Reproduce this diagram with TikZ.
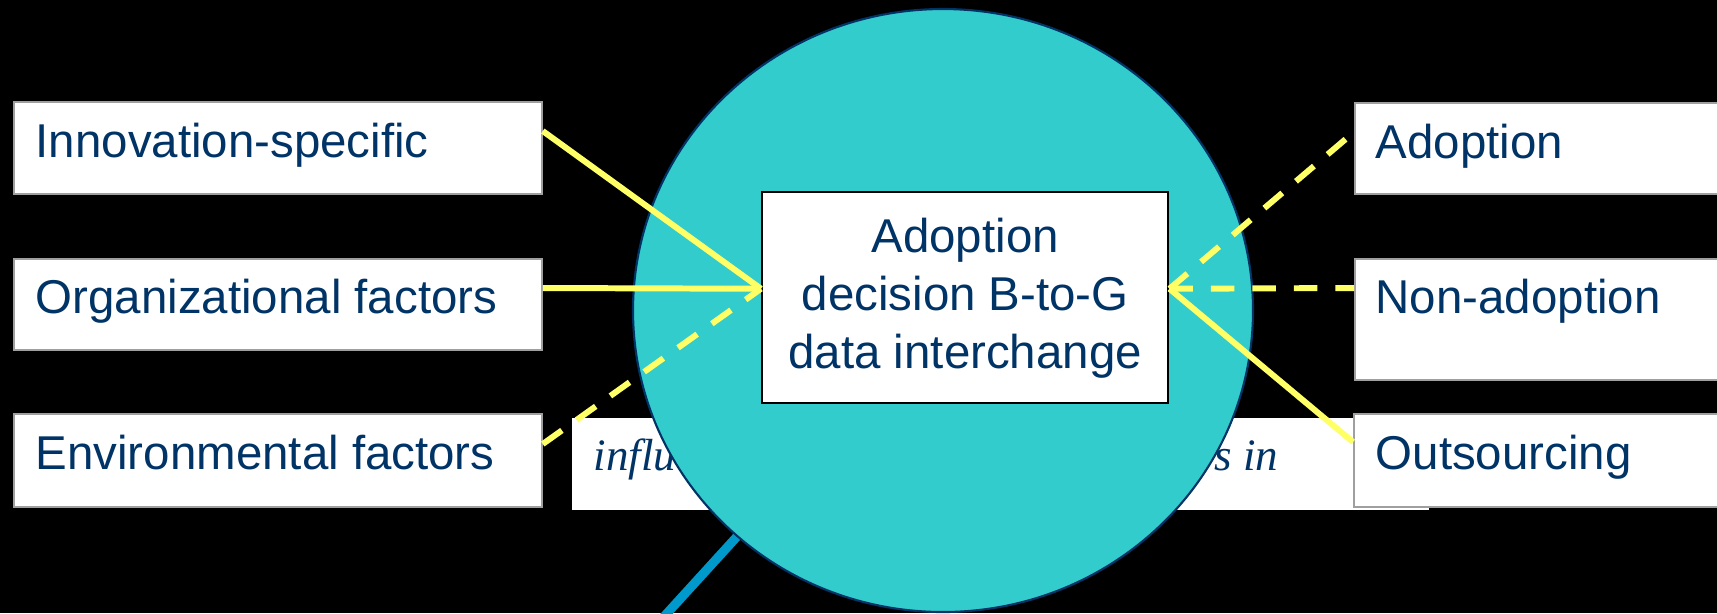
\documentclass[tikz,border=0pt]{standalone}
\usepackage{fontspec}
\setmainfont{Liberation Sans}
\newfontfamily\serifit{Liberation Serif}
\usetikzlibrary{calc}
\definecolor{navy}{HTML}{003366}
\definecolor{tealfill}{HTML}{33CCCC}
\definecolor{yel}{HTML}{FFFF66}
\definecolor{blueline}{HTML}{0099CC}
\begin{document}
\begin{tikzpicture}[x=0.1mm,y=-0.1mm,
  lblbox/.style={draw=gray!75, line width=0.5pt, fill=white, rectangle, inner sep=0pt, anchor=north west},
  lbltext/.style={anchor=base west, inner sep=0pt, text=navy, font=\fontsize{13.5}{16}\selectfont},
  conn/.style={draw=yel, line width=1.7pt},
  dashconn/.style={conn, dash pattern=on 2.35mm off 1.8mm},
  infltext/.style={inner sep=0pt, text=navy, font=\serifit\itshape\fontsize{12.8}{15}\selectfont},
]
\useasboundingbox (0,0) rectangle (1717,613);
\fill[black] (0,0) rectangle (1717,613);
\clip (0,0) rectangle (1717,613);

% partially hidden text box
\node[fill=white, inner sep=0pt, anchor=north west, minimum width=85.7mm, minimum height=9.2mm] (inflbox) at (571,417) {};
\node[infltext, anchor=base west] (infl1) at (593,470) {influ};
\node[infltext, anchor=base east] (infl2) at (1279,470) {s in};

% blue line from circle centre
\coordinate (cc) at (943,310.5);
\coordinate (blueend) at (588,700);
\draw[blueline, line width=2.6pt] (cc) -- (blueend);

% circle
\filldraw[fill=tealfill, draw=navy, line width=0.6pt] (cc) ellipse [x radius=31mm, y radius=30.15mm];

% central box
\node[draw=black, line width=0.7pt, fill=white, anchor=north west, minimum width=40.6mm, minimum height=21.1mm, inner sep=0pt,
      align=center, text=navy, font=\fontsize{13.5}{16.5}\selectfont] (cb) at (761,191)
      {Adoption\\decision B-to-G\\data interchange};

% left boxes
\node[lblbox, minimum width=52.8mm, minimum height=9.2mm] (b1) at (13,101) {};
\node[lblbox, minimum width=52.8mm, minimum height=9.1mm] (b2) at (13,258) {};
\node[lblbox, minimum width=52.8mm, minimum height=9.3mm] (b3) at (13,413) {};
\node[lbltext] (t1) at ($(b1.north west)+(22,56)$) {Innovation-specific};
\node[lbltext] (t2) at ($(b2.north west)+(22,55)$) {Organizational factors};
\node[lbltext] (t3) at ($(b3.north west)+(22,56)$) {Environmental factors};

% right boxes
\node[lblbox, minimum width=40mm, minimum height=9.1mm] (r1) at (1354,102) {};
\node[lblbox, minimum width=40mm, minimum height=12.1mm] (r2) at (1354,258) {};
\node[lblbox, minimum width=40mm, minimum height=9.3mm] (r3) at (1353,413) {};
\node[lbltext] (u1) at ($(r1.north west)+(21,56)$) {Adoption};
\node[lbltext] (u2) at ($(r2.north west)+(21,55)$) {Non-adoption};
\node[lbltext] (u3) at ($(r3.north west)+(22,56)$) {Outsourcing};

% connector end points
\coordinate (cin) at ($(cb.west)+(0,-9)$);
\coordinate (cout) at ($(cb.east)+(0,-9)$);

\draw[conn] ($(b1.north east)+(0,30)$) -- (cin);
\draw[conn] ($(b2.north east)+(0,30)$) -- (cin);
\draw[dashconn] ($(b3.north east)+(0,31)$) -- (cin);
\draw[dashconn] (cout) -- ($(r1.north west)+(0,30)$);
\draw[dashconn] (cout) -- ($(r2.north west)+(0,30)$);
\draw[conn] (cout) -- ($(r3.north west)+(0,29)$);
\end{tikzpicture}
\end{document}
